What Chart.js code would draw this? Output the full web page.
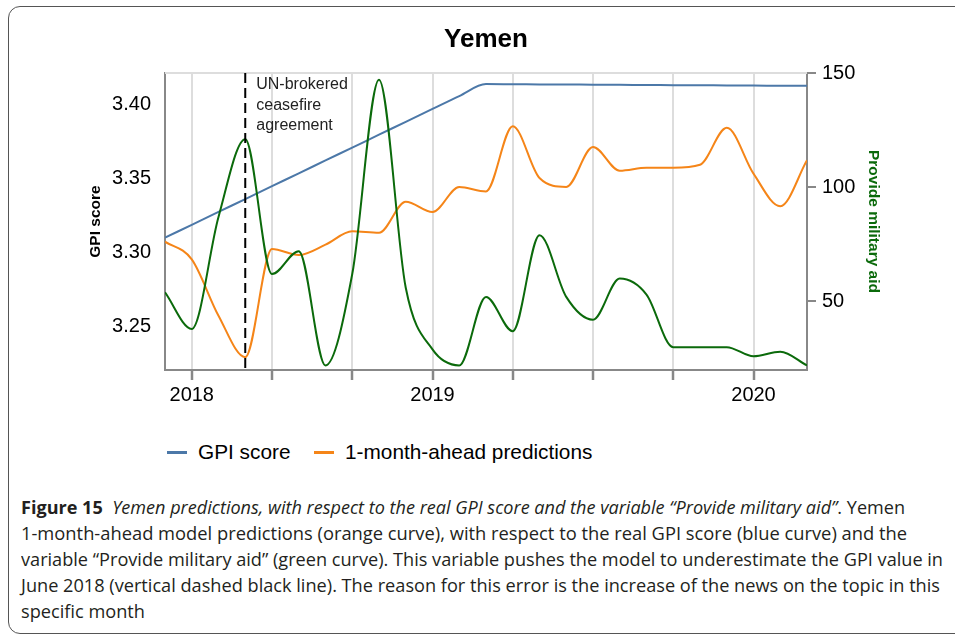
<!DOCTYPE html>
<html>
<head>
<meta charset="utf-8">
<script src="https://cdn.jsdelivr.net/npm/chart.js@4.4.1/dist/chart.umd.min.js"></script>
<style>
   html, body { margin:0; padding:0; background:#fff; }
   body { width:955px; height:636px; position:relative; overflow:hidden; font-family:'Liberation Sans', Arial, sans-serif; }
   #frame { position:absolute; left:8px; top:6px; width:975px; height:628px; border:1.5px solid #555; border-radius:12px; box-sizing:border-box; }
   #chartBox { position:absolute; left:0; top:0; width:955px; height:430px; }
   .swatch { position:absolute; top:451px; width:20px; height:3px; }
   .legendText { position:absolute; top:440px; font-size:20.8px; line-height:24px; color:#000; white-space:nowrap; }
   #caption { position:absolute; left:21px; top:494px; font-family:'Open Sans', sans-serif; font-size:18.5px; color:#231f20; }
   .capLine { white-space:nowrap; height:26px; line-height:26px; transform-origin:0 50%; width:max-content; }
</style>
</head>
<body>
<div id="frame"></div>
<div id="chartBox"><canvas id="chart"></canvas></div>

<div class="swatch" style="left:167px; background:#4c78a8;"></div>
<div class="legendText" style="left:198px;">GPI score</div>
<div class="swatch" style="left:314px; background:#f58518;"></div>
<div class="legendText" style="left:345px;">1-month-ahead predictions</div>

<div id="caption">
   <div class="capLine" data-w="884"><b>Figure 15</b>&nbsp;&nbsp;<i>Yemen predictions, with respect to the real GPI score and the variable “Provide military aid”</i>. Yemen</div>
   <div class="capLine" data-w="886">1-month-ahead model predictions (orange curve), with respect to the real GPI score (blue curve) and the</div>
   <div class="capLine" data-w="922">variable “Provide military aid” (green curve). This variable pushes the model to underestimate the GPI value in</div>
   <div class="capLine" data-w="919">June 2018 (vertical dashed black line). The reason for this error is the increase of the news on the topic in this</div>
   <div class="capLine">specific month</div>
</div>

<script>
// monthly steps along the x axis
const steps = [0, 1, 2, 3, 4, 5, 6, 7, 8, 9, 10, 11, 12, 13, 14, 15, 16, 17, 18, 19, 20, 21, 22, 23, 24];

const gpiScore = [3.3097, 3.3184, 3.3271, 3.3358, 3.3445, 3.3532, 3.3619, 3.3706, 3.3793, 3.3880, 3.3967, 3.4054, 3.4135,
                  3.4134, 3.4133, 3.4132, 3.4131, 3.4130, 3.4129, 3.4128, 3.4127, 3.4126, 3.4125, 3.4124, 3.4123];

const predictions = [3.307, 3.295, 3.257, 3.229, 3.302, 3.298, 3.305, 3.314, 3.313, 3.334, 3.327, 3.344, 3.341,
                     3.385, 3.350, 3.344, 3.371, 3.355, 3.357, 3.357, 3.359, 3.384, 3.353, 3.331, 3.362];

const militaryAid = [54, 38, 87, 121, 62, 72, 22, 62, 147, 56, 29, 22, 52,
                     37, 79, 52, 42, 60, 53, 30, 30, 30, 26, 28, 22];

const xTickSteps = [1, 4, 7, 10, 13, 16, 19, 22];
const xTickLabels = ['2018', '', '', '2019', '', '', '', '2020'];
const gpiTicks = [3.25, 3.30, 3.35, 3.40];
const aidTicks = [50, 100, 150];
const ceasefireStep = 3;
const ceasefireText = ['UN-brokered', 'ceasefire', 'agreement'];

const blue = '#4c78a8';
const orange = '#f58518';
const green = '#0b6a0b';
const axisGray = '#888888';

function toPoints(values){
   return values.map((v, i) => ({x: steps[i], y: v}));
}

const extras = {
   id: 'extras',
   beforeDatasetsDraw(chart){
      // light frame line along the top of the plot
      let {ctx, chartArea} = chart;
      ctx.save();
      ctx.strokeStyle = '#dddddd';
      ctx.lineWidth = 2;
      ctx.beginPath();
      ctx.moveTo(chartArea.left, chartArea.top);
      ctx.lineTo(chartArea.right, chartArea.top);
      ctx.stroke();
      ctx.restore();
   },
   afterDatasetsDraw(chart){
      let {ctx, chartArea, scales} = chart;
      let x = scales.x.getPixelForValue(ceasefireStep);
      ctx.save();
      ctx.strokeStyle = '#000';
      ctx.lineWidth = 2;
      ctx.setLineDash([10, 5]);
      ctx.beginPath();
      ctx.moveTo(x, chartArea.top);
      ctx.lineTo(x, chartArea.bottom);
      ctx.stroke();

      ctx.fillStyle = '#222';
      ctx.font = '16px "Liberation Sans", Arial, sans-serif';
      ctx.textBaseline = 'middle';
      ceasefireText.forEach((line, i) => {
         ctx.fillText(line, x + 11, chartArea.top + 12 + i * 20.5);
      });
      ctx.restore();
   }
};

const tickFont = {family: '"Liberation Sans", Arial, sans-serif', size: 20};

new Chart(document.getElementById('chart'), {
   type: 'line',
   data: {
      datasets: [
         {label: 'GPI score', data: toPoints(gpiScore), borderColor: blue, borderWidth: 2, yAxisID: 'y', order: 3},
         {label: '1-month-ahead predictions', data: toPoints(predictions), borderColor: orange, borderWidth: 2, yAxisID: 'y', order: 2},
         {label: 'Provide military aid', data: toPoints(militaryAid), borderColor: green, borderWidth: 2, yAxisID: 'y1', order: 1}
      ]
   },
   options: {
      responsive: true,
      maintainAspectRatio: false,
      animation: false,
      layout: {padding: 0},
      elements: {
         point: {radius: 0},
         line: {cubicInterpolationMode: 'monotone', fill: false}
      },
      plugins: {
         legend: {display: false},
         tooltip: {enabled: false},
         title: {
            display: true,
            text: 'Yemen',
            fullSize: false,
            color: '#000',
            font: {family: '"Liberation Sans", Arial, sans-serif', size: 26, weight: 'bold'},
            padding: {top: 24, bottom: 17.8}
         }
      },
      scales: {
         x: {
            type: 'linear',
            min: steps[0],
            max: steps[steps.length - 1],
            afterBuildTicks: (scale) => { scale.ticks = xTickSteps.map(v => ({value: v})); },
            afterFit: (scale) => { scale.height = 60; },
            ticks: {
               color: '#000',
               font: tickFont,
               padding: 3,
               maxRotation: 0,
               autoSkip: false,
               callback: (value) => xTickLabels[xTickSteps.indexOf(value)] || ''
            },
            grid: {color: '#dddddd', lineWidth: 2, tickColor: axisGray, tickWidth: 2.5, tickLength: 10},
            border: {color: axisGray, width: 2}
         },
         y: {
            position: 'left',
            min: 3.2203,
            max: 3.421,
            afterBuildTicks: (scale) => { scale.ticks = gpiTicks.map(v => ({value: v})); },
            afterFit: (scale) => { scale.width = 165; },
            ticks: {color: '#000', font: tickFont, padding: 14, callback: (value) => value.toFixed(2)},
            grid: {display: false, drawTicks: false},
            border: {color: axisGray, width: 2},
            title: {
               display: true,
               text: 'GPI score',
               color: '#000',
               font: {family: '"Liberation Sans", Arial, sans-serif', size: 15.5, weight: 'bold'},
               padding: {top: 86, bottom: 0}
            }
         },
         y1: {
            position: 'right',
            min: 20,
            max: 150,
            afterBuildTicks: (scale) => { scale.ticks = aidTicks.map(v => ({value: v})); },
            afterFit: (scale) => { scale.width = 148; },
            ticks: {color: '#000', font: tickFont, padding: 6},
            grid: {display: true, drawOnChartArea: false, drawTicks: true, tickLength: 9, color: axisGray, lineWidth: 2},
            border: {color: axisGray, width: 2},
            title: {
               display: true,
               text: 'Provide military aid',
               color: green,
               font: {family: '"Liberation Sans", Arial, sans-serif', size: 15.5, weight: 'bold'},
               padding: {top: 72, bottom: 0}
            }
         }
      }
   },
   plugins: [extras]
});

function fitCaption(){
   // squeeze each caption line to the width it takes in the figure
   let lines = document.querySelectorAll('.capLine');
   let scales = [];
   lines.forEach((line) => {
      let target = parseFloat(line.dataset.w);
      if(target){
         let natural = line.getBoundingClientRect().width;
         let s = target / natural;
         scales.push(s);
         line.style.transform = `scaleX(${s})`;
      }
   });
   let avg = scales.reduce((a, b) => a + b, 0) / scales.length;
   lines.forEach((line) => {
      if(!line.dataset.w){
         line.style.transform = `scaleX(${avg})`;
      }
   });
}

document.fonts.ready.then(fitCaption);
</script>
</body>
</html>
